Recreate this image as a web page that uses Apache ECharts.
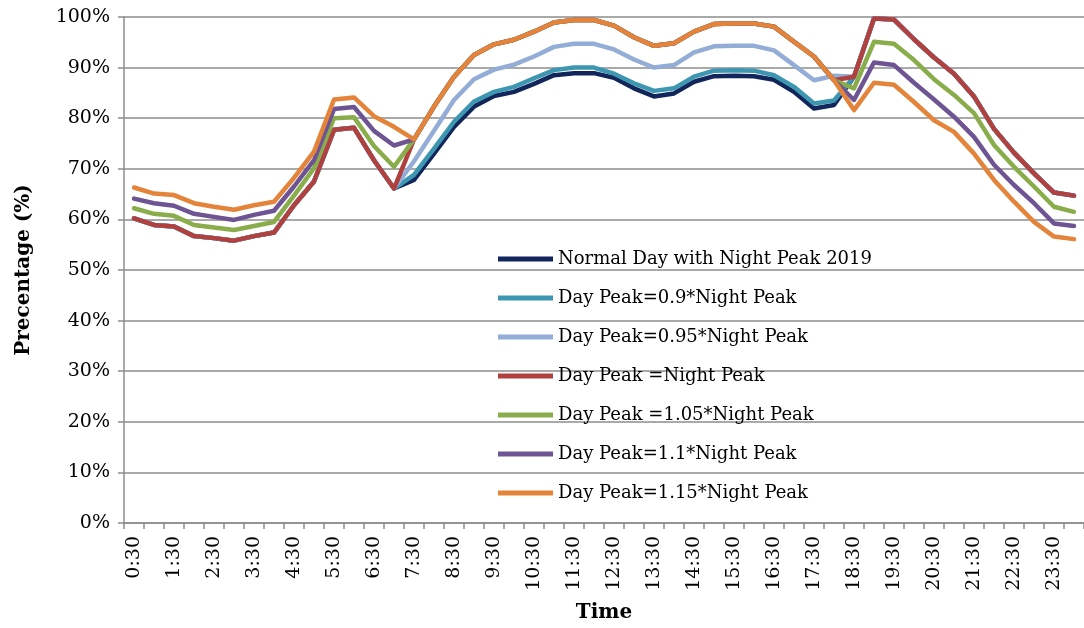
<!DOCTYPE html>
<html>
<head>
<meta charset="utf-8">
<title>Day / Night Peak</title>
<script src="https://cdn.jsdelivr.net/npm/echarts@6/dist/echarts.min.js"></script>
<style>
  html, body { margin: 0; padding: 0; background: #fff; }
  #chart { width: 1084px; height: 628px; }
</style>
</head>
<body>
<div id="chart"></div>
<script>
// half hour steps, label shown on every other one
const times = ['0:30', '1:00', '1:30', '2:00', '2:30', '3:00', '3:30', '4:00', '4:30', '5:00', '5:30', '6:00',
  '6:30', '7:00', '7:30', '8:00', '8:30', '9:00', '9:30', '10:00', '10:30', '11:00', '11:30', '12:00',
  '12:30', '13:00', '13:30', '14:00', '14:30', '15:00', '15:30', '16:00', '16:30', '17:00', '17:30', '18:00',
  '18:30', '19:00', '19:30', '20:00', '20:30', '21:00', '21:30', '22:00', '22:30', '23:00', '23:30', '0:00'];

const yTicks = [0, 10, 20, 30, 40, 50, 60, 70, 80, 90, 100];

const seriesNames = [
  'Normal Day with Night Peak 2019',
  'Day Peak=0.9*Night Peak',
  'Day Peak=0.95*Night Peak',
  'Day Peak =Night Peak',
  'Day Peak =1.05*Night Peak',
  'Day Peak=1.1*Night Peak',
  'Day Peak=1.15*Night Peak'
];

const normal2019 = [60.2, 58.9, 58.6, 56.7, 56.3, 55.8, 56.7, 57.4, 62.8, 67.5, 77.7, 78.1, 71.7, 66.1,
  67.8, 73.0, 78.3, 82.3, 84.4, 85.2, 86.8, 88.5, 88.9, 88.9, 88.0, 85.9, 84.3, 84.9, 87.2, 88.3, 88.4, 88.3, 87.6, 85.2, 81.9, 82.6,
  88.2, 99.7, 99.5, 95.6, 92.0, 88.8, 84.3, 77.9, 73.2, 69.1, 65.3, 64.7];
const peak090 = [60.2, 58.9, 58.6, 56.7, 56.3, 55.8, 56.7, 57.4, 62.8, 67.5, 77.7, 78.1, 71.7, 66.1,
  68.8, 74.0, 79.3, 83.3, 85.2, 86.2, 87.9, 89.5, 90.0, 90.0, 88.8, 86.9, 85.4, 85.9, 88.2, 89.4, 89.5, 89.4, 88.5, 86.2, 82.9, 83.5,
  88.2, 99.7, 99.5, 95.6, 92.0, 88.8, 84.3, 77.9, 73.2, 69.1, 65.3, 64.7];
const peak095 = [60.2, 58.9, 58.6, 56.7, 56.3, 55.8, 56.7, 57.4, 62.8, 67.5, 77.7, 78.1, 71.7, 66.1,
  71.5, 77.5, 83.6, 87.7, 89.6, 90.6, 92.2, 94.1, 94.7, 94.7, 93.6, 91.6, 90.0, 90.5, 93.0, 94.2, 94.3, 94.3, 93.4, 90.5, 87.5, 88.4,
  88.2, 99.7, 99.5, 95.6, 92.0, 88.8, 84.3, 77.9, 73.2, 69.1, 65.3, 64.7];
const peak100 = [60.2, 58.9, 58.6, 56.7, 56.3, 55.8, 56.7, 57.4, 62.8, 67.5, 77.7, 78.1, 71.7, 66.1,
  75.8, 82.3, 88.2, 92.5, 94.6, 95.5, 97.1, 98.9, 99.4, 99.4, 98.3, 96.0, 94.3, 94.8, 97.1, 98.6, 98.7, 98.7, 98.1, 95.1, 92.2, 87.5,
  88.2, 99.7, 99.5, 95.6, 92.0, 88.8, 84.3, 77.9, 73.2, 69.1, 65.3, 64.7];
const peak105 = [62.2, 61.1, 60.7, 58.9, 58.4, 57.9, 58.7, 59.5, 64.7, 70.1, 80.0, 80.2, 74.5, 70.4,
  75.8, 82.3, 88.2, 92.5, 94.6, 95.5, 97.1, 98.9, 99.4, 99.4, 98.3, 96.0, 94.3, 94.8, 97.1, 98.6, 98.7, 98.7, 98.1, 95.1, 92.2, 87.5,
  85.9, 95.1, 94.7, 91.5, 87.7, 84.6, 81.0, 74.7, 70.4, 66.5, 62.5, 61.5];
const peak110 = [64.1, 63.2, 62.7, 61.1, 60.5, 59.9, 60.9, 61.7, 66.5, 71.7, 81.8, 82.2, 77.5, 74.6,
  75.8, 82.3, 88.2, 92.5, 94.6, 95.5, 97.1, 98.9, 99.4, 99.4, 98.3, 96.0, 94.3, 94.8, 97.1, 98.6, 98.7, 98.7, 98.1, 95.1, 92.2, 87.5,
  83.6, 91.0, 90.5, 87.0, 83.7, 80.3, 76.3, 70.8, 66.8, 63.2, 59.2, 58.7];
const peak115 = [66.3, 65.1, 64.8, 63.2, 62.5, 61.9, 62.8, 63.5, 68.2, 73.4, 83.7, 84.1, 80.4, 78.3,
  75.8, 82.3, 88.2, 92.5, 94.6, 95.5, 97.1, 98.9, 99.4, 99.4, 98.3, 96.0, 94.3, 94.8, 97.1, 98.6, 98.7, 98.7, 98.1, 95.1, 92.2, 87.5,
  81.6, 87.0, 86.6, 83.2, 79.6, 77.3, 73.0, 67.8, 63.5, 59.5, 56.6, 56.1];

const seriesData = [normal2019, peak090, peak095, peak100, peak105, peak110, peak115];
const colors = ['#12265c', '#3d97b1', '#93add6', '#b0413e', '#89ad4a', '#6f5494', '#e4843a'];

const font = 'DejaVu Serif';

const chart = echarts.init(document.getElementById('chart'));

const option = {
  animation: false,
  color: colors,
  grid: {
    left: 124,
    right: 0,
    top: 17,
    bottom: 105,
    containLabel: false
  },
  legend: {
    orient: 'vertical',
    left: 493,
    top: 244,
    itemWidth: 55,
    itemHeight: 5,
    itemGap: 19,
    icon: 'rect',
    selectedMode: false,
    itemStyle: { borderWidth: 0 },
    lineStyle: { width: 0 },
    textStyle: {
      fontFamily: font,
      fontSize: 18,
      lineHeight: 20,
      color: '#000',
      padding: [0, 0, 0, 0]
    },
    data: seriesNames
  },
  xAxis: {
    type: 'category',
    data: times,
    boundaryGap: true,
    name: 'Time',
    nameLocation: 'middle',
    nameGap: 80,
    nameTextStyle: { fontFamily: font, fontSize: 20, fontWeight: 'bold', color: '#000' },
    axisLine: { lineStyle: { color: '#8c8c8c', width: 1.5 } },
    axisTick: { show: true, interval: 0, length: 6, lineStyle: { color: '#8c8c8c', width: 1.5 } },
    axisLabel: {
      interval: 1,
      rotate: 90,
      margin: 13,
      fontFamily: font,
      fontSize: 19,
      color: '#000'
    },
    splitLine: { show: false }
  },
  yAxis: {
    type: 'value',
    min: yTicks[0],
    max: yTicks[yTicks.length - 1],
    interval: 10,
    name: 'Precentage (%)',
    nameLocation: 'middle',
    nameGap: 90,
    nameTextStyle: { fontFamily: font, fontSize: 20, fontWeight: 'bold', color: '#000' },
    axisLine: { show: true, lineStyle: { color: '#8c8c8c', width: 1.5 } },
    axisTick: { show: true, length: 6, lineStyle: { color: '#8c8c8c', width: 1.5 } },
    axisLabel: {
      formatter: '{value}%',
      margin: 14,
      fontFamily: font,
      fontSize: 19,
      color: '#000'
    },
    splitLine: { show: true, lineStyle: { color: '#8c8c8c', width: 1.5 } }
  },
  series: seriesNames.map(function (name, i) {
    return {
      name: name,
      type: 'line',
      data: seriesData[i],
      symbol: 'none',
      smooth: false,
      silent: true,
      lineStyle: { width: 4.5, color: colors[i], cap: 'round', join: 'round' }
    };
  })
};

chart.setOption(option);
window.onresize = function () {
  chart.resize();
};
</script>
</body>
</html>
